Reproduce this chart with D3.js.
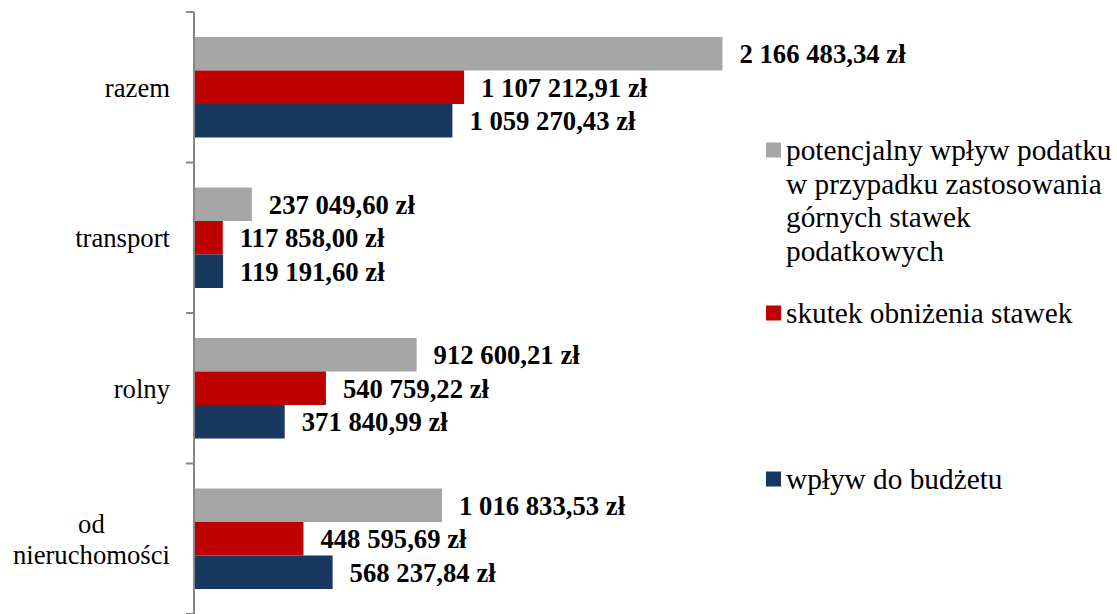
<!DOCTYPE html>
<html>
<head>
<meta charset="utf-8">
<script src="https://cdn.jsdelivr.net/npm/d3@7/dist/d3.min.js"></script>
<style>
  html, body { margin: 0; padding: 0; background: #fff; }
  svg { display: block; }
</style>
</head>
<body>
<svg id="chart" width="1117" height="614"></svg>
<script>
// ---- data ----
const categories = ["razem", "transport", "rolny", "od nieruchomości"];
const categoryLines = [["razem"], ["transport"], ["rolny"], ["od", "nieruchomości"]];
const seriesNames = [
  "potencjalny wpływ podatku w przypadku zastosowania górnych stawek podatkowych",
  "skutek obniżenia stawek",
  "wpływ do budżetu"
];
const legendLines = [
  ["potencjalny wpływ podatku", "w przypadku zastosowania", "górnych stawek", "podatkowych"],
  ["skutek obniżenia stawek"],
  ["wpływ do budżetu"]
];
const potencjalny = [2166483.34, 237049.60, 912600.21, 1016833.53];
const skutek      = [1107212.91, 117858.00, 540759.22, 448595.69];
const wplyw       = [1059270.43, 119191.60, 371840.99, 568237.84];
const seriesValues = [potencjalny, skutek, wplyw];
const colors = ["#a6a6a6", "#c00000", "#17375e"];

// ---- layout ----
const svg = d3.select("#chart");
const axisX = 194;
const plotTop = 12, plotBottom = 614;
const serif = "Liberation Serif";

const x = d3.scaleLinear().domain([0, 2166483.34]).range([axisX, 722.5]);
const y = d3.scaleBand().domain(categories).range([plotTop, plotBottom]).paddingInner(0).paddingOuter(0);
const yInner = d3.scaleBand().domain(d3.range(3)).range([25, y.bandwidth() - 25]).padding(0);

const locale = d3.formatLocale({ decimal: ",", thousands: " ", grouping: [3], currency: ["", " zł"] });
const fmt = v => locale.format(",.2f")(v) + " zł";

// bars
const groups = svg.append("g").selectAll("g")
  .data(categories)
  .join("g")
  .attr("transform", c => `translate(0,${y(c)})`);

groups.each(function(c, ci) {
  const g = d3.select(this);
  seriesValues.forEach((vals, si) => {
    const v = vals[ci];
    g.append("rect")
      .attr("x", x(0))
      .attr("y", yInner(si))
      .attr("width", x(v) - x(0))
      .attr("height", yInner.bandwidth())
      .attr("fill", colors[si]);
    g.append("text")
      .attr("x", x(v) + 17)
      .attr("y", yInner(si) + yInner.bandwidth() / 2)
      .attr("dy", "0.35em")
      .style("font-family", serif)
      .style("font-size", "26.7px")
      .style("font-weight", "bold")
      .attr("fill", "#000")
      .text(fmt(v));
  });
});

// axis line + ticks
const axisG = svg.append("g");
axisG.append("line")
  .attr("x1", axisX).attr("x2", axisX)
  .attr("y1", plotTop).attr("y2", plotBottom)
  .attr("stroke", "#868686").attr("stroke-width", 2);
const boundaries = categories.map(c => y(c)).concat([plotBottom]);
axisG.selectAll("line.tick")
  .data(boundaries)
  .join("line")
  .attr("class", "tick")
  .attr("x1", axisX - 8).attr("x2", axisX)
  .attr("y1", d => d).attr("y2", d => d)
  .attr("stroke", "#868686").attr("stroke-width", 2);

// category labels
categories.forEach((c, ci) => {
  const lines = categoryLines[ci];
  const cy = y(c) + y.bandwidth() / 2;
  const lh = 31;
  const t = svg.append("text")
    .style("font-family", serif)
    .style("font-size", "26.7px")
    .attr("fill", "#000");
  const spans = lines.map((ln, li) =>
    t.append("tspan")
      .attr("y", cy + (li - (lines.length - 1) / 2) * lh)
      .attr("dy", "0.35em")
      .text(ln));
  const maxW = d3.max(spans, s => s.node().getComputedTextLength());
  const right = 170;
  if (lines.length === 1) {
    t.attr("text-anchor", "end");
    spans.forEach(s => s.attr("x", right));
  } else {
    t.attr("text-anchor", "middle");
    spans.forEach(s => s.attr("x", right - maxW / 2));
  }
});

// legend
const legendCenters = [150, 313, 479];
const legend = svg.append("g");
legendLines.forEach((lines, i) => {
  const cy = legendCenters[i];
  legend.append("rect")
    .attr("x", 766).attr("y", cy - 7.5)
    .attr("width", 15).attr("height", 15)
    .attr("fill", colors[i]);
  const t = legend.append("text")
    .style("font-family", serif)
    .style("font-size", "29.3px")
    .attr("fill", "#000");
  lines.forEach((ln, li) => {
    t.append("tspan")
      .attr("x", 786)
      .attr("y", cy + 10 + li * 33.5)
      .text(ln);
  });
});
</script>
</body>
</html>
